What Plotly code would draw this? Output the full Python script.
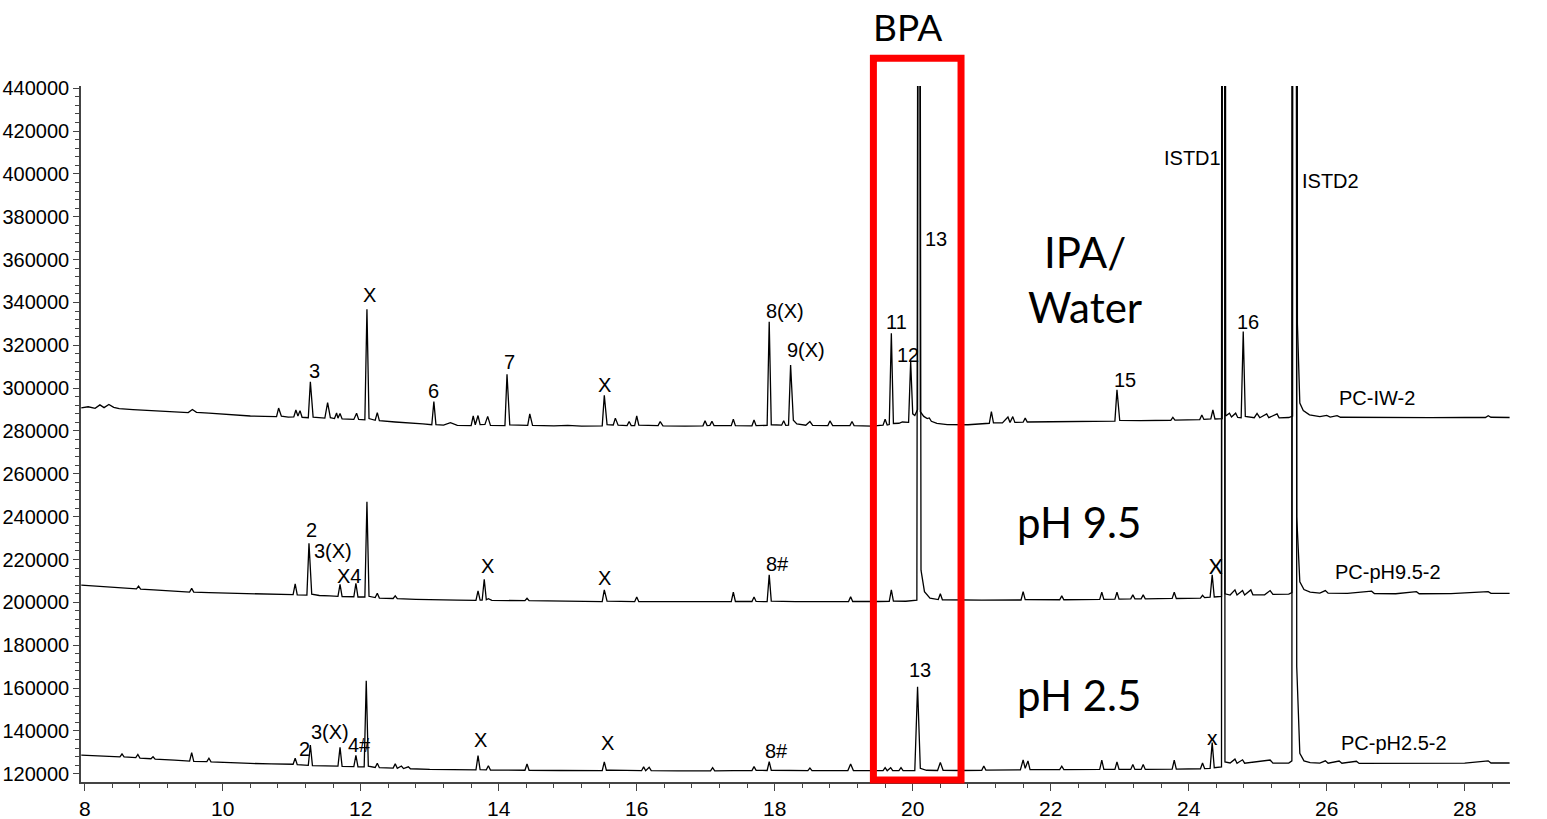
import plotly.graph_objects as go

# ---------------- data ----------------
# (retention time in min, signal) pairs, peaks given as base / apex / base
iw_points = [
    (7.95, 290800), (8.05, 291300), (8.15, 290600), (8.22, 292200), (8.28, 290900), (8.35, 292400),
    (8.42, 291000), (8.5, 290400), (8.7, 290000), (8.9, 289600), (9.1, 289300), (9.5, 288600),
    (9.56, 290000), (9.62, 288700), (9.8, 288300), (10.1, 287600), (10.4, 287000), (10.6, 286800),
    (10.78, 286700), (10.81, 290700), (10.85, 286900), (10.95, 286500), (11.03, 286600), (11.06, 289800),
    (11.09, 287000), (11.12, 289500), (11.15, 286400), (11.24, 286200), (11.27, 303000), (11.31, 286500),
    (11.48, 286000), (11.52, 293200), (11.56, 286200), (11.62, 285800), (11.65, 288400), (11.67, 286000),
    (11.70, 288200), (11.73, 285600), (11.9, 285400), (11.94, 288300), (11.97, 285400), (12.06, 285200),
    (12.09, 336800), (12.12, 285800), (12.21, 285000), (12.24, 288600), (12.27, 284800), (12.5, 284200),
    (12.7, 283900), (12.9, 283300), (13.03, 282900), (13.06, 293700), (13.09, 283000), (13.2, 282700),
    (13.3, 283900), (13.4, 282600), (13.6, 282500), (13.63, 287000), (13.66, 282900), (13.70, 287200),
    (13.73, 283000), (13.8, 283100), (13.84, 286800), (13.88, 282600), (14.09, 282500), (14.12, 306500),
    (14.16, 282800), (14.42, 282600), (14.45, 288000), (14.49, 282600), (14.8, 282400), (15.0, 282600),
    (15.2, 282300), (15.5, 282400), (15.53, 296700), (15.57, 283000), (15.66, 282800), (15.69, 286000),
    (15.73, 282700), (15.86, 282500), (15.89, 284400), (15.92, 282500), (15.97, 282500), (16.0, 287000),
    (16.03, 282700), (16.31, 282500), (16.34, 284400), (16.38, 282400), (16.7, 282300), (16.96, 282400),
    (16.99, 284800), (17.02, 282500), (17.06, 282600), (17.09, 284500), (17.12, 282500), (17.37, 282500),
    (17.40, 285500), (17.43, 282500), (17.67, 282400), (17.70, 285100), (17.73, 282500), (17.89, 282600),
    (17.92, 331000), (17.95, 282900), (18.1, 282700), (18.13, 284800), (18.16, 282600), (18.2, 282700),
    (18.23, 310800), (18.27, 285000), (18.32, 283300), (18.45, 282700), (18.51, 284400), (18.55, 282600),
    (18.77, 282500), (18.80, 284700), (18.84, 282500), (19.09, 282500), (19.12, 284400), (19.15, 282500),
    (19.4, 282300), (19.57, 282700), (19.60, 285500), (19.63, 282800), (19.66, 283000), (19.69, 325600),
    (19.72, 283500), (19.8, 283600), (19.85, 284200), (19.94, 284000), (19.97, 312400), (20.0, 288000),
    (20.03, 287200), (20.07, 290000), (20.09, 900000), (20.11, 289000), (20.16, 286800), (20.21, 285800),
    (20.24, 286100), (20.27, 284500), (20.35, 283500), (20.5, 283000), (20.8, 282900), (21.0, 283300),
    (21.11, 283600), (21.14, 289000), (21.17, 283800), (21.3, 283800), (21.38, 286500), (21.41, 284000),
    (21.45, 286700), (21.48, 284000), (21.6, 284100), (21.63, 286000), (21.66, 284200), (22.0, 284300),
    (22.3, 284400), (22.6, 284500), (22.93, 284600), (22.96, 299200), (23.0, 284900), (23.3, 284800),
    (23.6, 285000), (23.74, 285000), (23.77, 286400), (23.8, 285100), (24.16, 285300), (24.19, 287500),
    (24.22, 285400), (24.32, 285600), (24.35, 289800), (24.38, 285600), (24.485, 285800), (24.51, 3000000),
    (24.535, 287000), (24.59, 288300), (24.62, 286500), (24.68, 288300), (24.71, 286300), (24.76, 286200),
    (24.79, 326400), (24.82, 286800), (24.95, 286200), (24.99, 288200), (25.03, 286200), (25.13, 288000),
    (25.16, 286200), (25.28, 288000), (25.31, 286100), (25.45, 286300), (25.505, 287000), (25.54, 3000000),
    (25.575, 330000), (25.61, 293000), (25.66, 289500), (25.75, 287500), (25.9, 286700), (26.0, 287300),
    (26.05, 286500), (26.15, 287200), (26.2, 286400), (26.6, 286300), (27.0, 286200), (27.5, 286200),
    (28.0, 286300), (28.3, 286300), (28.34, 287100), (28.38, 286400), (28.65, 286300),
]

ph95_points = [
    (7.95, 208000), (8.1, 207700), (8.3, 207200), (8.5, 206800), (8.75, 206300), (8.78, 207600),
    (8.81, 206200), (9.0, 205800), (9.3, 205200), (9.52, 204800), (9.55, 206500), (9.58, 204800),
    (9.8, 204500), (10.1, 204200), (10.4, 203900), (10.7, 203700), (11.02, 203600), (11.05, 208600),
    (11.08, 203500), (11.22, 203400), (11.25, 227600), (11.29, 203800), (11.4, 203200), (11.55, 203000),
    (11.67, 202800), (11.70, 208400), (11.73, 202700), (11.9, 202600), (11.93, 208900), (11.96, 202500),
    (12.06, 202500), (12.09, 246900), (12.12, 202800), (12.21, 202200), (12.24, 204200), (12.27, 202000),
    (12.47, 201800), (12.50, 203000), (12.53, 201700), (12.8, 201400), (13.1, 201100), (13.4, 201000),
    (13.67, 200900), (13.70, 205400), (13.73, 201000), (13.76, 201000), (13.79, 210800), (13.82, 201200),
    (13.85, 201700), (13.9, 200900), (14.38, 200800), (14.41, 201900), (14.44, 200800), (14.8, 200600),
    (15.2, 200400), (15.50, 200300), (15.53, 205800), (15.57, 200600), (15.97, 200300), (16.0, 202500),
    (16.03, 200300), (16.5, 200300), (17.0, 200300), (17.37, 200300), (17.40, 204800), (17.43, 200400),
    (17.67, 200400), (17.70, 202500), (17.73, 200400), (17.89, 200300), (17.92, 212800), (17.95, 200600),
    (18.3, 200300), (18.6, 200300), (19.07, 200400), (19.10, 202600), (19.13, 200400), (19.5, 200400),
    (19.66, 200500), (19.69, 205800), (19.72, 200600), (19.9, 200500), (20.06, 201000), (20.09, 900000),
    (20.12, 215000), (20.17, 205000), (20.25, 202000), (20.37, 201300), (20.40, 204000), (20.43, 201200),
    (20.7, 201000), (21.0, 201000), (21.57, 201100), (21.60, 205000), (21.63, 201300), (22.13, 201200),
    (22.16, 203000), (22.19, 201200), (22.71, 201400), (22.74, 204700), (22.77, 201400), (22.93, 201500),
    (22.96, 204700), (22.99, 201500), (23.16, 201600), (23.19, 203500), (23.22, 201600), (23.31, 201600),
    (23.34, 203500), (23.37, 201600), (23.76, 201800), (23.79, 204700), (23.82, 201800), (24.17, 202000),
    (24.20, 203300), (24.23, 202200), (24.31, 202400), (24.34, 212800), (24.37, 202500), (24.475, 202800),
    (24.50, 3000000), (24.525, 204000), (24.6, 203400), (24.67, 205800), (24.70, 203400), (24.78, 205500),
    (24.81, 203400), (24.90, 205800), (24.93, 203500), (25.1, 203500), (25.18, 205500), (25.22, 203700),
    (25.45, 203800), (25.495, 204500), (25.53, 3000000), (25.565, 240000), (25.61, 209600), (25.67, 206000),
    (25.76, 204800), (25.9, 204300), (25.98, 205500), (26.02, 204300), (26.3, 204200), (26.65, 205200),
    (26.69, 204100), (27.0, 204000), (27.30, 205000), (27.34, 204000), (27.8, 204100), (28.34, 205000),
    (28.38, 204200), (28.65, 204200),
]

ph25_points = [
    (7.95, 128700), (8.1, 128500), (8.25, 128300), (8.4, 128000), (8.51, 127900), (8.54, 129200),
    (8.57, 127800), (8.74, 127500), (8.77, 129000), (8.8, 127300), (8.96, 127000), (8.99, 127900),
    (9.02, 126800), (9.3, 126300), (9.52, 125900), (9.55, 129800), (9.58, 125800), (9.77, 125600),
    (9.80, 127200), (9.83, 125500), (10.1, 125100), (10.4, 124800), (10.7, 124600), (11.02, 124400),
    (11.05, 127200), (11.08, 124200), (11.24, 123900), (11.27, 133400), (11.30, 123800), (11.5, 123600),
    (11.67, 123500), (11.70, 132300), (11.73, 123400), (11.9, 123300), (11.93, 128600), (11.96, 123200),
    (12.05, 123200), (12.08, 163400), (12.11, 123500), (12.21, 122900), (12.24, 124900), (12.27, 122800),
    (12.47, 122600), (12.50, 124600), (12.53, 122500), (12.59, 123600), (12.62, 122400), (12.69, 123200),
    (12.72, 122300), (13.0, 122000), (13.3, 121800), (13.67, 121800), (13.70, 128400), (13.73, 121900),
    (13.82, 121800), (13.85, 123700), (13.88, 121700), (14.38, 121600), (14.41, 124500), (14.44, 121600),
    (14.9, 121500), (15.50, 121400), (15.53, 125500), (15.56, 121600), (15.62, 121700), (16.07, 121400),
    (16.10, 123200), (16.13, 121400), (16.18, 123000), (16.21, 121400), (16.6, 121300), (17.07, 121300),
    (17.10, 122800), (17.13, 121300), (17.4, 121400), (17.67, 121500), (17.70, 123300), (17.73, 121600),
    (17.89, 121500), (17.92, 125600), (17.95, 121600), (18.3, 121400), (18.48, 121400), (18.51, 122600),
    (18.54, 121400), (19.06, 121500), (19.10, 124500), (19.14, 121500), (19.4, 121400), (19.57, 121400),
    (19.60, 122800), (19.63, 121400), (19.68, 122800), (19.71, 121400), (19.80, 121400), (19.83, 122800),
    (19.86, 121400), (20.03, 121500), (20.07, 160600), (20.11, 122500), (20.2, 121600), (20.36, 121500),
    (20.40, 125300), (20.44, 121600), (20.7, 121500), (21.0, 121600), (21.03, 123600), (21.06, 121700),
    (21.56, 121800), (21.60, 126400), (21.63, 122500), (21.67, 126000), (21.70, 121900), (22.13, 121900),
    (22.16, 123500), (22.19, 121900), (22.71, 122000), (22.74, 126300), (22.77, 122000), (22.93, 122000),
    (22.96, 125500), (22.99, 122000), (23.16, 122000), (23.19, 124300), (23.22, 122000), (23.31, 122000),
    (23.34, 124300), (23.37, 122000), (23.76, 122100), (23.79, 126300), (23.82, 122100), (24.17, 122300),
    (24.20, 125000), (24.23, 122400), (24.31, 122500), (24.34, 134500), (24.37, 122800), (24.475, 123200),
    (24.50, 3000000), (24.525, 125500), (24.6, 125000), (24.67, 126800), (24.70, 124900), (24.78, 126500),
    (24.81, 124900), (25.18, 126400), (25.22, 124900), (25.45, 125000), (25.495, 126000), (25.53, 3000000),
    (25.565, 170000), (25.61, 129500), (25.67, 126000), (25.76, 125200), (25.9, 124900), (25.98, 126000),
    (26.02, 124900), (26.18, 125900), (26.22, 124900), (26.43, 125800), (26.47, 124800), (27.0, 124800),
    (27.5, 124900), (28.0, 124900), (28.34, 126000), (28.38, 125000), (28.65, 125000),
]

# peak labels: (text, time, signal)
iw_labels = [("3", 11.33, 308000), ("X", 12.12, 343500), ("6", 13.06, 298700), ("7", 14.15, 312200),
             ("X", 15.53, 301500), ("8(X)", 18.15, 336100), ("9(X)", 18.46, 317900), ("11", 19.77, 330900),
             ("12", 19.93, 315500), ("13", 20.34, 369600), ("15", 23.08, 303800), ("16", 24.86, 330900),
             ("ISTD1", 24.05, 407500), ("ISTD2", 26.06, 396700), ("PC-IW-2", 26.73, 295400)]
ph95_labels = [("2", 11.28, 233800), ("3(X)", 11.60, 224000), ("X4", 11.83, 212300), ("X", 13.83, 217000),
               ("X", 15.54, 211400), ("8#", 18.04, 217900), ("PC-pH9.5-2", 26.89, 214200)]
ph25_labels = [("2", 11.18, 131500), ("3(X)", 11.56, 139500), ("4#", 11.98, 133400), ("X", 13.74, 135700),
               ("X", 15.57, 134300), ("8#", 18.03, 130600), ("13", 20.10, 168400), ("PC-pH2.5-2", 26.97, 134300)]
# labels in the slide font
extra_labels = [("X", 24.40, 217000), ("x", 24.35, 137600)]
condition_labels = [("IPA/<br>Water", 22.50, 350500), ("pH 9.5", 22.41, 237500), ("pH 2.5", 22.41, 156700)]

bpa_window = (19.43, 20.70)

# ---------------- figure ----------------
fig = go.Figure()
for pts in (iw_points, ph95_points, ph25_points):
    fig.add_trace(go.Scatter(
        x=[p[0] for p in pts], y=[p[1] for p in pts], mode="lines",
        line=dict(color="black", width=1.3), hoverinfo="skip", showlegend=False,
    ))

arial = "Arial, Liberation Sans, sans-serif"
lato = "Lato, Carlito, sans-serif"

for text, t, s in iw_labels + ph95_labels + ph25_labels:
    fig.add_annotation(x=t, y=s, text=text, showarrow=False, xanchor="center", yanchor="middle",
                       font=dict(family=arial, size=20, color="black"))
for text, t, s in extra_labels:
    fig.add_annotation(x=t, y=s, text=text, showarrow=False, xanchor="center", yanchor="middle",
                       font=dict(family=lato, size=21, color="black"))
for text, t, s in condition_labels:
    fig.add_annotation(x=t, y=s, text=text, showarrow=False, xanchor="center", yanchor="middle",
                       font=dict(family=lato, size=42, color="black"))

fig.add_annotation(x=19.93, y=1.086, xref="x", yref="paper", text="BPA", showarrow=False,
                   xanchor="center", yanchor="middle",
                   font=dict(family=lato, size=37, color="black"))

fig.add_shape(type="rect", xref="x", yref="paper", x0=bpa_window[0], x1=bpa_window[1],
              y0=0.003, y1=1.04, line=dict(color="red", width=7), fillcolor="rgba(0,0,0,0)")

axis_col = "#444444"
fig.update_xaxes(
    range=[7.946, 28.656], tickmode="linear", tick0=8, dtick=2, automargin=False,
    ticks="outside", ticklen=7, tickwidth=1.2, tickcolor=axis_col,
    showline=True, linecolor=axis_col, linewidth=1.5,
    showgrid=False, zeroline=False,
    minor=dict(dtick=0.4, ticks="outside", ticklen=4, tickcolor=axis_col, showgrid=False),
    tickfont=dict(family=arial, size=21, color="black"),
)
fig.update_yaxes(
    range=[116125, 441055], tickmode="linear", tick0=0, dtick=20000, tickformat="d", automargin=False,
    ticks="outside", ticklen=6, tickwidth=1.2, tickcolor=axis_col,
    showline=True, linecolor=axis_col, linewidth=1.5,
    showgrid=False, zeroline=False,
    minor=dict(dtick=4000, ticks="outside", ticklen=4, tickcolor=axis_col, showgrid=False),
    tickfont=dict(family=arial, size=20, color="black"),
)
fig.update_layout(
    width=1547, height=819,
    margin=dict(l=81, r=37, t=86, b=37),
    plot_bgcolor="white", paper_bgcolor="white", showlegend=False,
)

fig.write_html("out.html", config={"displayModeBar": False},
               post_script="document.body.style.margin='0px';")
